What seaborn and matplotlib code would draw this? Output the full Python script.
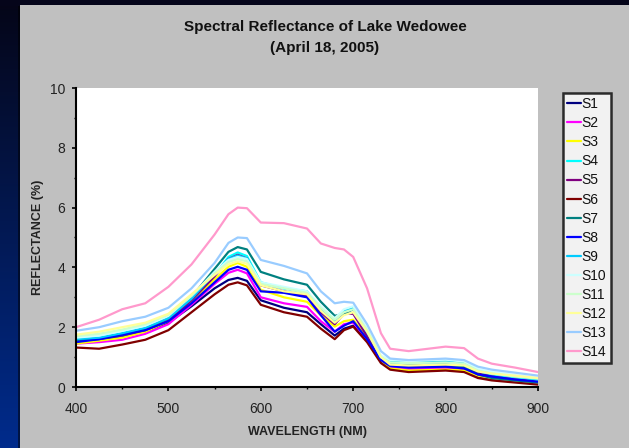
import numpy as np
import pandas as pd
import matplotlib
matplotlib.use("Agg")
import matplotlib.pyplot as plt
from matplotlib.patches import Rectangle
from matplotlib.ticker import MultipleLocator
import seaborn as sns

wavelength = [400, 425, 450, 475, 500, 525, 550, 565, 575, 585, 600, 625, 650, 665,
              680, 690, 700, 715, 730, 740, 760, 800, 820, 835, 850, 875, 900]

s1 = [1.50, 1.55, 1.70, 1.85, 2.15, 2.70, 3.30, 3.58, 3.65, 3.55, 2.90, 2.65, 2.50, 2.10,
      1.72, 1.95, 2.05, 1.55, 0.85, 0.65, 0.60, 0.62, 0.55, 0.35, 0.28, 0.20, 0.12]
s2 = [1.45, 1.50, 1.58, 1.78, 2.10, 2.75, 3.45, 3.82, 3.92, 3.80, 3.00, 2.80, 2.68, 2.20,
      1.85, 2.10, 2.15, 1.60, 0.90, 0.65, 0.60, 0.62, 0.55, 0.38, 0.30, 0.20, 0.12]
s3 = [1.45, 1.55, 1.65, 1.85, 2.20, 2.85, 3.60, 4.02, 4.15, 4.02, 3.25, 3.00, 2.85, 2.40,
      2.02, 2.20, 2.25, 1.65, 0.90, 0.62, 0.55, 0.58, 0.55, 0.38, 0.30, 0.22, 0.15]
s4 = [1.55, 1.60, 1.72, 1.92, 2.25, 2.90, 3.75, 4.35, 4.50, 4.38, 3.50, 3.30, 3.20, 2.60,
      2.20, 2.50, 2.60, 1.80, 1.00, 0.78, 0.75, 0.78, 0.72, 0.50, 0.42, 0.32, 0.25]
s5 = [1.55, 1.60, 1.72, 1.90, 2.22, 2.90, 3.70, 4.28, 4.42, 4.30, 3.40, 3.20, 3.05, 2.50,
      2.10, 2.45, 2.45, 1.70, 0.95, 0.72, 0.68, 0.70, 0.65, 0.45, 0.35, 0.25, 0.18]
s6 = [1.32, 1.28, 1.42, 1.58, 1.90, 2.50, 3.10, 3.42, 3.50, 3.40, 2.75, 2.50, 2.35, 1.95,
      1.60, 1.90, 2.02, 1.50, 0.80, 0.58, 0.50, 0.55, 0.50, 0.30, 0.22, 0.15, 0.08]
s7 = [1.55, 1.62, 1.75, 1.95, 2.30, 3.00, 3.95, 4.52, 4.68, 4.60, 3.85, 3.60, 3.42, 2.85,
      2.38, 2.45, 2.60, 1.90, 1.00, 0.75, 0.72, 0.75, 0.68, 0.42, 0.30, 0.22, 0.15]
s8 = [1.50, 1.60, 1.75, 1.90, 2.20, 2.80, 3.50, 3.92, 4.02, 3.92, 3.20, 3.15, 3.00, 2.40,
      1.85, 2.05, 2.20, 1.60, 0.90, 0.70, 0.65, 0.68, 0.62, 0.42, 0.35, 0.25, 0.18]
s9 = [1.60, 1.65, 1.80, 1.98, 2.30, 2.95, 3.80, 4.28, 4.40, 4.30, 3.45, 3.30, 3.15, 2.60,
      2.20, 2.55, 2.65, 1.85, 1.00, 0.85, 0.80, 0.85, 0.80, 0.55, 0.45, 0.35, 0.25]
s10 = [1.65, 1.72, 1.88, 2.05, 2.38, 3.05, 3.85, 4.25, 4.35, 4.28, 3.50, 3.35, 3.20, 2.70,
       2.30, 2.60, 2.70, 1.95, 1.05, 0.90, 0.88, 0.92, 0.85, 0.60, 0.50, 0.40, 0.30]
s11 = [1.70, 1.78, 1.92, 2.10, 2.42, 3.05, 3.80, 4.18, 4.28, 4.20, 3.45, 3.30, 3.15, 2.65,
       2.25, 2.50, 2.60, 1.90, 1.00, 0.82, 0.80, 0.82, 0.78, 0.55, 0.45, 0.35, 0.28]
s12 = [1.75, 1.85, 2.00, 2.15, 2.45, 3.10, 3.75, 4.10, 4.20, 4.12, 3.40, 3.20, 3.10, 2.55,
       2.15, 2.40, 2.50, 1.85, 1.00, 0.75, 0.72, 0.75, 0.72, 0.52, 0.45, 0.38, 0.30]
s13 = [1.88, 2.00, 2.20, 2.35, 2.65, 3.30, 4.15, 4.82, 5.00, 4.98, 4.25, 4.05, 3.80, 3.20,
       2.80, 2.85, 2.82, 2.10, 1.20, 0.95, 0.90, 0.95, 0.90, 0.68, 0.58, 0.48, 0.38]
s14 = [2.00, 2.25, 2.60, 2.80, 3.35, 4.10, 5.10, 5.78, 6.00, 5.98, 5.50, 5.48, 5.30, 4.80,
       4.65, 4.60, 4.35, 3.30, 1.80, 1.28, 1.20, 1.35, 1.30, 0.95, 0.78, 0.65, 0.50]

series_names = ["S1", "S2", "S3", "S4", "S5", "S6", "S7",
                "S8", "S9", "S10", "S11", "S12", "S13", "S14"]
series_values = [s1, s2, s3, s4, s5, s6, s7, s8, s9, s10, s11, s12, s13, s14]
series_colors = ["#000080", "#FF00FF", "#FFFF00", "#00FFFF", "#800080", "#800000",
                 "#008080", "#0000FF", "#00CCFF", "#CCFFFF", "#CCFFCC", "#FFFF99",
                 "#99CCFF", "#FF99CC"]

x_ticks = [400, 500, 600, 700, 800, 900]
y_ticks = [0, 2, 4, 6, 8, 10]

df = pd.DataFrame(
    [(name, w, v) for name, vals in zip(series_names, series_values)
     for w, v in zip(wavelength, vals)],
    columns=["series", "wavelength", "reflectance"],
)

sns.set_theme(style="white")
plt.rcParams["font.family"] = ["Liberation Sans", "DejaVu Sans"]

W, H = 629, 448
fig = plt.figure(figsize=(W / 100, H / 100), dpi=100)

# slide backdrop: dark gradient strip on the left, grey chart panel
bg = fig.add_axes([0, 0, 1, 1], zorder=-10)
grad = np.linspace(0, 1, 256).reshape(-1, 1)
top_c = np.array([0.02, 0.02, 0.09])
bot_c = np.array([0.0, 0.17, 0.55])
img = top_c + (bot_c - top_c) * grad[:, :, None]
bg.imshow(img, aspect="auto", extent=[0, 1, 0, 1], origin="upper")
bg.add_patch(Rectangle((0, 1 - 6 / H), 1, 6 / H, color="#05051a", lw=0))
bg.add_patch(Rectangle((18 / W, 0), 2 / W, 1 - 6 / H, color="#000000", alpha=0.5, lw=0))
bg.add_patch(Rectangle((20 / W, 0), 1 - 20 / W, 1 - 5 / H, color="#C0C0C0", lw=0))
bg.set_xlim(0, 1)
bg.set_ylim(0, 1)
bg.axis("off")

ax = fig.add_axes([76 / W, (H - 387) / H, (538 - 76) / W, (387 - 88) / H])
ax.set_facecolor("white")

sns.lineplot(data=df, x="wavelength", y="reflectance", hue="series",
             hue_order=series_names, palette=series_colors, linewidth=1.6,
             ax=ax, legend=False)

ax.set_xlim(400, 900)
ax.set_ylim(0, 10)
ax.set_xticks(x_ticks)
ax.set_yticks(y_ticks)
ax.xaxis.set_minor_locator(MultipleLocator(50))
ax.yaxis.set_minor_locator(MultipleLocator(1))
ax.tick_params(axis="both", which="major", direction="out", length=3, width=1.2,
               color="black", labelsize=10, labelcolor="#222222",
               bottom=True, left=True)
ax.tick_params(axis="x", which="major", pad=8)
ax.tick_params(axis="y", which="major", pad=5)
ax.tick_params(axis="both", which="minor", direction="out", length=1.5, width=1,
               color="black", bottom=True, left=True)
for side in ["top", "right"]:
    ax.spines[side].set_visible(False)
for side in ["left", "bottom"]:
    ax.spines[side].set_color("black")
    ax.spines[side].set_linewidth(1.5)

ax.set_xlabel("WAVELENGTH (NM)", fontsize=9, fontweight="bold", color="#222222")
ax.set_ylabel("REFLECTANCE (%)", fontsize=9, fontweight="bold", color="#222222")
ax.xaxis.set_label_coords(0.5, -(432 - 387) / (387 - 88), transform=ax.transAxes)
ax.yaxis.set_label_coords(-(76 - 38) / (538 - 76), 0.5, transform=ax.transAxes)
ax.xaxis.label.set_va("center")
ax.yaxis.label.set_va("center")

fig.text(325 / W, 1 - 27 / H, "Spectral Reflectance of Lake Wedowee",
         ha="center", va="center", fontsize=11, fontweight="bold", color="#111111")
fig.text(325 / W, 1 - 48 / H, "(April 18, 2005)",
         ha="center", va="center", fontsize=11, fontweight="bold", color="#111111")

handles = [plt.Line2D([], [], color=c, lw=1.6) for c in series_colors]
leg = fig.legend(handles, series_names, loc="upper left",
                 bbox_to_anchor=(563 / W, 1 - 93 / H), bbox_transform=fig.transFigure,
                 frameon=True, fancybox=False, edgecolor="black", facecolor="white",
                 fontsize=10, handlelength=1.0, handletextpad=0.05,
                 borderpad=0.3, labelspacing=0.365, borderaxespad=0)
leg.get_frame().set_linewidth(1.8)
for t in leg.get_texts():
    t.set_color("#111111")

fig.savefig("out.png", dpi=100)
